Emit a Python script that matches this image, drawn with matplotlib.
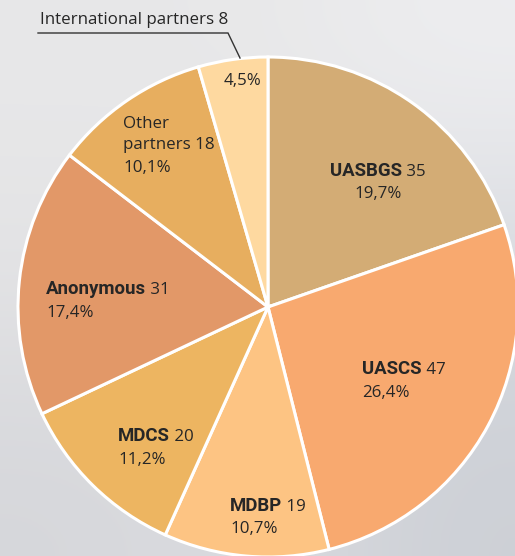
import numpy as np
import matplotlib.pyplot as plt

# donors of the fund (count of contributions)
labels = ["UASBGS", "UASCS", "MDBP", "MDCS", "Anonymous", "Other\npartners", "International partners"]
values = [35, 47, 19, 20, 31, 18, 8]
shares = ["19,7%", "26,4%", "10,7%", "11,2%", "17,4%", "10,1%", "4,5%"]
colors = ["#d3ac75", "#f8a96f", "#fdc483", "#edb561", "#e29868", "#e7ae5f", "#fed9a0"]

# pixel geometry of the picture
W, H = 515, 556
CX, CY, R = 268, 307, 250


def px(x, y):
    # pixel position -> data coords (pie centre 0,0, radius 1)
    return (x - CX) / R, (CY - y) / R


plt.rcParams['font.family'] = ['Open Sans', 'DejaVu Sans']
BOLD = ['Roboto', 'DejaVu Sans']
TXT = "#262626"
FS = 12.2

fig = plt.figure(figsize=(W / 100, H / 100), dpi=100)
ax = fig.add_axes([0, 0, 1, 1])

wedges, _ = ax.pie(values, colors=colors, startangle=90, counterclock=False,
                   radius=1, center=(0, 0),
                   wedgeprops=dict(edgecolor="white", linewidth=2.2))

x0, y0 = px(0, 0)
x1, y1 = px(W, H)
ax.set_xlim(x0, x1)
ax.set_ylim(y1, y0)
ax.set_aspect("auto")
ax.axis("off")

# soft grey photo-like background
bg = np.array([
    [[232, 232, 233], [232, 232, 233], [238, 238, 240]],
    [[227, 227, 229], [228, 228, 230], [214, 217, 223]],
    [[214, 215, 219], [219, 220, 224], [205, 208, 214]],
]) / 255.0
ax.imshow(bg, extent=(x0, x1, y1, y0), interpolation="bicubic", zorder=-5, aspect="auto")


def two_part(x, y, bold, rest):
    bx, by = px(x, y)
    t = ax.text(bx, by, bold, fontsize=13.4, fontweight="bold", family=BOLD,
                color=TXT, ha="left", va="baseline")
    n = ax.annotate(" " + str(rest), xy=(1, 0), xycoords=t, fontsize=FS, color=TXT,
                    ha="left", va="bottom")
    return t, n


def line(x, y, s, ha="left"):
    bx, by = px(x, y)
    ax.text(bx, by, s, fontsize=FS, color=TXT, ha=ha, va="baseline")


# UASBGS label is centred in its slice
ub, un = two_part(378, 176, labels[0], values[0])
line(378, 198, shares[0], ha="center")

two_part(362, 374, labels[1], values[1])
line(362, 397, shares[1])

two_part(230, 511, labels[2], values[2])
line(230, 533, shares[2])

two_part(118, 441, labels[3], values[3])
line(118, 464, shares[3])

two_part(46, 294, labels[4], values[4])
line(46, 317, shares[4])

line(123, 128, "Other")
line(123, 149, "partners " + str(values[5]))
line(123, 172, shares[5])

line(242, 85, shares[6], ha="center")

# leader for the small slice
line(40, 24, labels[6] + " " + str(values[6]))
lx, ly = zip(px(38, 33), px(228, 33), px(240, 58))
ax.plot(lx, ly, color="#333333", lw=1.0, solid_joinstyle="miter")

# shift the centred two-part label by half its width
fig.canvas.draw()
r = fig.canvas.get_renderer()
e1 = ub.get_window_extent(r)
e2 = un.get_window_extent(r)
half = (e2.x1 - e1.x0) / 2 / R
ub.set_x(ub.get_position()[0] - half)

fig.savefig("out.png", dpi=100)
